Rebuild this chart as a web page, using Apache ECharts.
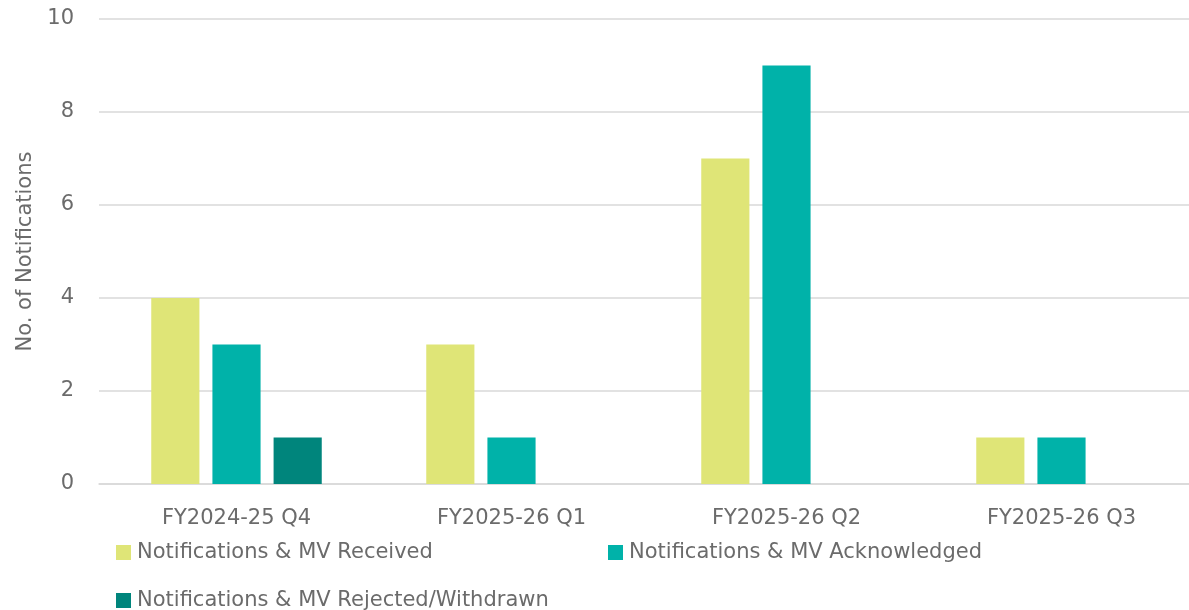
<!DOCTYPE html>
<html>
<head>
<meta charset="utf-8">
<script src="https://cdn.jsdelivr.net/npm/echarts@6/dist/echarts.min.js"></script>
<style>
  html, body { margin: 0; padding: 0; background: #fff; }
  #chart { width: 1189px; height: 610px; }
</style>
</head>
<body>
<div id="chart"></div>
<script>
const categories = ['FY2024-25 Q4', 'FY2025-26 Q1', 'FY2025-26 Q2', 'FY2025-26 Q3']
const seriesNames = [
  'Notifications & MV Received',
  'Notifications & MV Acknowledged',
  'Notifications & MV Rejected/Withdrawn'
]
const received = [4, 3, 7, 1]
const acknowledged = [3, 1, 9, 1]
const rejected = [1, null, null, null]
const colors = ['#DFE577', '#00B2A9', '#00857C']

const font = '"DejaVu Sans", sans-serif'
const textColor = '#6b6b6b'

const chart = echarts.init(document.getElementById('chart'))

// one legend block per item so they sit where the original puts them
function legendAt(name, left, top) {
  return {
    orient: 'horizontal',
    left: left,
    top: top,
    padding: 0,
    itemWidth: 15,
    itemHeight: 15,
    icon: 'rect',
    data: [name],
    textStyle: { color: textColor, fontSize: 21, fontFamily: font, padding: [0, 0, 0, 1] }
  }
}

chart.setOption({
  backgroundColor: '#fff',
  animation: false,
  color: colors,
  grid: { left: 99, width: 1100, top: 19, height: 465, outerBoundsMode: 'none' },
  legend: [
    legendAt(seriesNames[0], 116, 542),
    legendAt(seriesNames[1], 608, 542),
    legendAt(seriesNames[2], 116, 590)
  ],
  xAxis: {
    type: 'category',
    data: categories,
    axisLine: { lineStyle: { color: '#d9d9d9', width: 1.5 } },
    axisTick: { show: false },
    axisLabel: { color: textColor, fontSize: 21, fontFamily: font, margin: 24 }
  },
  yAxis: {
    type: 'value',
    min: 0,
    max: 10,
    interval: 2,
    name: 'No. of Notifications',
    nameLocation: 'middle',
    nameGap: 60,
    nameTextStyle: { color: textColor, fontSize: 21, fontFamily: font },
    axisLine: { show: false },
    axisTick: { show: false },
    splitLine: { lineStyle: { color: '#d9d9d9', width: 1.5 } },
    axisLabel: { color: textColor, fontSize: 21, fontFamily: font, margin: 25 }
  },
  series: [
    { name: seriesNames[0], type: 'bar', data: received, barGap: '27%', barCategoryGap: '38%' },
    { name: seriesNames[1], type: 'bar', data: acknowledged },
    { name: seriesNames[2], type: 'bar', data: rejected }
  ]
})

window.addEventListener('resize', () => chart.resize())
</script>
</body>
</html>
